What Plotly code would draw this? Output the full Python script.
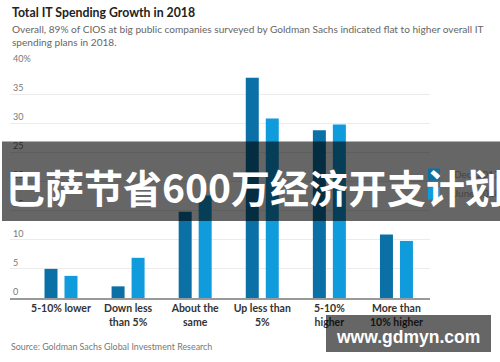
import plotly.graph_objects as go

categories = ["5-10% lower", "Down less<br>than 5%", "About the<br>same",
              "Up less than<br>5%", "5-10%<br>higher", "More than<br>10% higher"]
dec_2017 = [5, 2, 14.8, 37.8, 28.8, 10.9]
june_2018 = [3.8, 6.9, 17.6, 30.8, 29.8, 9.8]
series_names = ["Dec. 2017", "June 2018"]
y_tickvals = [0, 5, 10, 15, 20, 25, 30, 35, 40]
y_ticktext = ["0", "5", "10", "15", "20", "25", "30", "35", "40%"]

DARK = "#0b70a6"
LIGHT = "#0f9bdc"
W, H = 500, 362
L, R, T, B = 10, 70, 65, 64
PW = W - L - R
PH = H - T - B


def px(x):
    return (x - L) / PW


def py(y):
    return (H - B - y) / PH


fig = go.Figure()
fig.add_trace(go.Bar(x=categories, y=dec_2017, name=series_names[0],
                     marker=dict(color=DARK, line=dict(width=0))))
fig.add_trace(go.Bar(x=categories, y=june_2018, name=series_names[1],
                     marker=dict(color=LIGHT, line=dict(width=0))))

fig.update_layout(
    width=W, height=H,
    margin=dict(l=L, r=R, t=T, b=B, autoexpand=False),
    paper_bgcolor="white", plot_bgcolor="white",
    barmode="group", bargap=0.404, bargroupgap=0.35,
    font=dict(family="Lato", color="#444"),
    showlegend=True,
    legend=dict(x=px(414), y=py(160), xanchor="left", yanchor="top",
                font=dict(size=10, color="#444"), bgcolor="rgba(0,0,0,0)",
                itemwidth=30, tracegroupgap=0),
    xaxis=dict(type="category", range=[-0.76, 5.5], showgrid=False,
               showline=True, linecolor="#999", linewidth=1.5,
               ticks="", tickfont=dict(family="Lato", size=10.5, color="#333", weight="bold")),
    yaxis=dict(range=[0, 40], tickvals=y_tickvals, ticktext=y_ticktext,
               showgrid=True, gridcolor="#ebebeb", gridwidth=1,
               zeroline=False, showline=False, ticks="",
               ticklabelposition="inside top", ticklabeloverflow="allow",
               tickfont=dict(family="Lato", size=9, color="#777")),
)

ann = []
ann.append(dict(x=px(10), y=py(12.5), xref="paper", yref="paper", xanchor="left", yanchor="middle",
                text="Total IT Spending Growth in 2018", showarrow=False,
                font=dict(family="Lato", size=12.3, color="#222", weight="bold")))
ann.append(dict(x=px(10), y=py(35.2), xref="paper", yref="paper", xanchor="left", yanchor="middle",
                align="left",
                text="Overall, 89% of CIOS at big public companies surveyed by Goldman Sachs indicated flat to higher overall IT<br>spending plans in 2018.",
                showarrow=False, font=dict(family="Lato", size=10.1, color="#666")))
ann.append(dict(x=px(9), y=py(346.7), xref="paper", yref="paper", xanchor="left", yanchor="middle",
                text="Source: Goldman Sachs Global Investment Research", showarrow=False,
                font=dict(family="Lato", size=8.9, color="#777")))
# overlay banner text
ann.append(dict(x=px(4), y=py(185.5), xref="paper", yref="paper", xanchor="left", yanchor="middle",
                text="巴萨节省600万经济开支计划", showarrow=False,
                font=dict(family="Noto Sans CJK SC", size=39, color="white", weight="bold")))
ann.append(dict(x=px(408), y=py(337), xref="paper", yref="paper", xanchor="center", yanchor="middle",
                text="www.gdmyn.com", showarrow=False,
                font=dict(family="Liberation Sans", size=17.5, color="white", weight="bold")))
fig.update_layout(annotations=ann)

fig.add_shape(type="rect", xref="paper", yref="paper", layer="above",
              x0=px(2), x1=px(500), y0=py(221), y1=py(141.5),
              fillcolor="rgba(0,0,0,0.6)", line=dict(width=0))
fig.add_shape(type="rect", xref="paper", yref="paper", layer="above",
              x0=px(326), x1=px(491), y0=py(352), y1=py(315),
              fillcolor="rgba(0,0,0,0.6)", line=dict(width=0))

fig.write_html("out.html", config={"displayModeBar": False},
               post_script="document.body.style.margin='0px';")
